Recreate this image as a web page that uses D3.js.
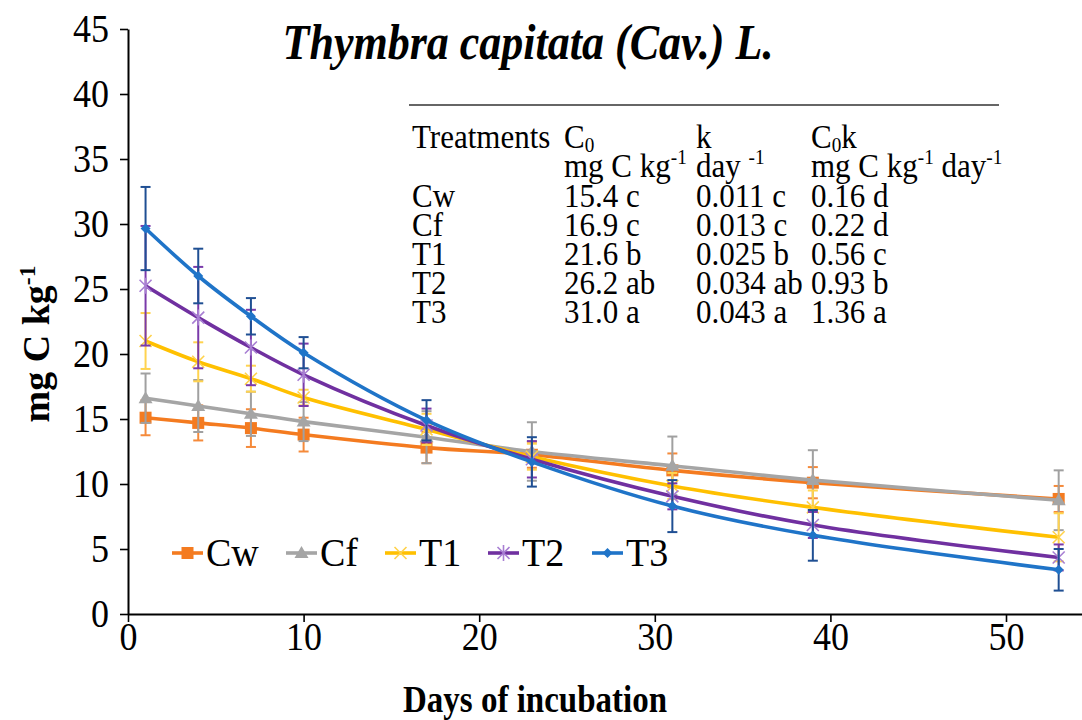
<!DOCTYPE html>
<html>
<head>
<meta charset="utf-8">
<script src="https://cdn.jsdelivr.net/npm/d3@7/dist/d3.min.js"></script>
<style>
  body { margin: 0; background: #fff; }
  svg { display: block; }
  svg text { font-family: "Liberation Serif", "Times New Roman", "DejaVu Serif", serif; fill: #000; }
</style>
</head>
<body>
<div id="chart"></div>
<script>
const width = 1082, height = 720;

// data
const days = [1, 4, 7, 10, 17, 23, 31, 39, 53];
const cw = [15.1, 14.7, 14.3, 13.8, 12.8, 12.25, 11.05, 10.1, 8.85];
const cwErr = [1.35, 1.35, 1.45, 1.3, 1.2, 1.0, 1.3, 1.2, 1.0];
const cf = [16.6, 16.0, 15.4, 14.8, 13.6, 12.5, 11.4, 10.3, 8.75];
const cfErr = [1.9, 2.0, 1.7, 1.5, 2.0, 2.25, 2.25, 2.3, 2.3];
const t1 = [21.0, 19.4, 18.1, 16.65, 14.2, 12.1, 9.85, 8.2, 5.9];
const t1Err = [2.15, 1.5, 1.0, 0.6, 1.2, 1.0, 1.0, 1.3, 1.85];
const t2 = [25.25, 22.8, 20.5, 18.4, 14.5, 11.9, 9.05, 6.85, 4.35];
const t2Err = [4.6, 3.9, 2.9, 2.4, 1.3, 1.4, 1.0, 1.0, 1.0];
const t3 = [29.65, 26.0, 22.9, 20.1, 14.9, 11.7, 8.3, 6.05, 3.4];
const t3Err = [3.2, 2.1, 1.4, 1.2, 1.55, 1.9, 2.0, 1.95, 1.6];

const xTicks = [0, 10, 20, 30, 40, 50];
const yTicks = [0, 5, 10, 15, 20, 25, 30, 35, 40, 45];

// table in the plot
const treatments = ["Cw", "Cf", "T1", "T2", "T3"];
const c0Values = ["15.4 c", "16.9 c", "21.6 b", "26.2 ab", "31.0 a"];
const kValues = ["0.011 c", "0.013 c", "0.025 b", "0.034 ab", "0.043 a"];
const c0kValues = ["0.16 d", "0.22 d", "0.56 c", "0.93 b", "1.36 a"];

const series = [
  { name: "Cw", values: cw, err: cwErr, color: "#F47B20", errColor: "#F58A3A", marker: "square" },
  { name: "Cf", values: cf, err: cfErr, color: "#A5A5A5", errColor: "#A0A0A0", marker: "triangle" },
  { name: "T1", values: t1, err: t1Err, color: "#FFC000", errColor: "#FFD34F", marker: "x" },
  { name: "T2", values: t2, err: t2Err, color: "#7030A0", errColor: "#7A3AAA", marker: "star" },
  { name: "T3", values: t3, err: t3Err, color: "#1F74C8", errColor: "#1F4F93", marker: "diamond" }
];

const svg = d3.select("#chart").append("svg")
  .attr("width", width)
  .attr("height", height);

const x = d3.scaleLinear().domain([0, 55]).range([128, 128 + 55 * 17.56]);
const y = d3.scaleLinear().domain([0, 45]).range([614, 29]);

// text with sub / superscripts: the shift is undone on the next part
function richText(sel, parts, size) {
  let pending = 0;
  parts.forEach(p => {
    const t = sel.append("tspan").text(p.t);
    let dy = pending;
    pending = 0;
    if (p.sup) {
      t.attr("font-size", size * 0.62);
      dy += -size * 0.38;
      pending = size * 0.38;
    } else if (p.sub) {
      t.attr("font-size", size * 0.62);
      dy += size * 0.12;
      pending = -size * 0.12;
    }
    if (dy !== 0) t.attr("dy", dy);
  });
  return sel;
}

// the source picture is a bit taller than wide, so text is stretched upward
function stretch(sel, k) {
  sel.each(function () {
    const t = d3.select(this);
    const tx = +t.attr("x") || 0, ty = +t.attr("y") || 0;
    t.attr("x", 0).attr("y", 0)
      .attr("transform", `translate(${tx}, ${ty}) scale(1, ${k})`);
  });
  return sel;
}

// =========================
// AXES
// =========================
const xAxis = svg.append("g")
  .attr("transform", `translate(0, ${y(0)})`)
  .call(d3.axisBottom(x).tickValues(xTicks).tickSize(8).tickSizeOuter(0));

const yAxis = svg.append("g")
  .attr("transform", `translate(${x(0)}, 0)`)
  .call(d3.axisLeft(y).tickValues(yTicks).tickSize(8).tickSizeOuter(0));

[xAxis, yAxis].forEach(a => {
  a.select(".domain").attr("stroke", "#000").attr("stroke-width", 2);
  a.selectAll(".tick line").attr("stroke", "#000").attr("stroke-width", 1.6);
  a.selectAll(".tick text")
    .attr("fill", "#000")
    .attr("dy", null)
    .style("font-size", "36px");
});
yAxis.selectAll(".tick text").attr("x", -19).attr("y", 12);
xAxis.selectAll(".tick text").attr("y", 36);
stretch(yAxis.selectAll(".tick text"), 1.14);
stretch(xAxis.selectAll(".tick text"), 1.14);

// =========================
// SERIES
// =========================
const line = d3.line()
  .x((d, i) => x(days[i]))
  .y(d => y(d))
  .curve(d3.curveCatmullRom.alpha(0.5));

function drawMarker(g, type, cx, cy, color) {
  if (type === "square") {
    g.append("rect").attr("x", cx - 6).attr("y", cy - 6).attr("width", 12).attr("height", 12).attr("fill", color);
  } else if (type === "triangle") {
    g.append("path").attr("d", `M${cx},${cy - 7}L${cx + 7},${cy + 5}L${cx - 7},${cy + 5}Z`).attr("fill", color);
  } else if (type === "x") {
    g.append("path").attr("d", `M${cx - 6},${cy - 6}L${cx + 6},${cy + 6}M${cx - 6},${cy + 6}L${cx + 6},${cy - 6}`)
      .attr("stroke", "#FFD24A").attr("stroke-width", 1.6);
  } else if (type === "star") {
    g.append("path").attr("d", `M${cx - 6},${cy - 6}L${cx + 6},${cy + 6}M${cx - 6},${cy + 6}L${cx + 6},${cy - 6}M${cx},${cy - 8}L${cx},${cy + 8}`)
      .attr("stroke", "#A87FD3").attr("stroke-width", 1.6);
  } else if (type === "diamond") {
    g.append("path").attr("d", `M${cx},${cy - 5}L${cx + 5},${cy}L${cx},${cy + 5}L${cx - 5},${cy}Z`).attr("fill", color);
  }
}

series.forEach(s => {
  const g = svg.append("g");

  // error bars
  s.values.forEach((v, i) => {
    const cx = x(days[i]);
    const top = y(v + s.err[i]), bot = y(v - s.err[i]);
    g.append("line").attr("x1", cx).attr("x2", cx).attr("y1", top).attr("y2", bot)
      .attr("stroke", s.errColor).attr("stroke-width", 2);
    [top, bot].forEach(yy => {
      g.append("line").attr("x1", cx - 5).attr("x2", cx + 5).attr("y1", yy).attr("y2", yy)
        .attr("stroke", s.errColor).attr("stroke-width", 2);
    });
  });

  g.append("path")
    .attr("d", line(s.values))
    .attr("fill", "none")
    .attr("stroke", s.color)
    .attr("stroke-width", 3.6);

  s.values.forEach((v, i) => drawMarker(g, s.marker, x(days[i]), y(v), s.color));
});

// =========================
// LEGEND
// =========================
const legendX = [172, 286, 385, 488, 592];
const legendY = 553;
series.forEach((s, i) => {
  const g = svg.append("g");
  g.append("line").attr("x1", legendX[i]).attr("x2", legendX[i] + 31)
    .attr("y1", legendY).attr("y2", legendY)
    .attr("stroke", s.color).attr("stroke-width", 3.6);
  drawMarker(g, s.marker, legendX[i] + 15.5, legendY, s.color);
  stretch(g.append("text")
    .attr("x", legendX[i] + 34)
    .attr("y", legendY + 13)
    .style("font-size", "38px")
    .text(s.name), 1.06);
});

// =========================
// TITLE + AXIS TITLES
// =========================
stretch(svg.append("text")
  .attr("x", 528)
  .attr("y", 59)
  .attr("text-anchor", "middle")
  .style("font-size", "44px")
  .style("font-weight", "bold")
  .style("font-style", "italic")
  .text("Thymbra capitata (Cav.) L."), 1.14);

stretch(svg.append("text")
  .attr("x", 535)
  .attr("y", 712)
  .attr("text-anchor", "middle")
  .style("font-size", "33px")
  .style("font-weight", "bold")
  .text("Days of incubation"), 1.14);

const yl = svg.append("text")
  .attr("transform", "translate(49, 344) rotate(-90)")
  .attr("text-anchor", "middle")
  .style("font-size", "38px")
  .style("font-weight", "bold");
richText(yl, [{ t: "mg C kg" }, { t: "-1", sup: true }], 38);

// =========================
// TABLE
// =========================
const fs = 31;
const tbl = svg.append("g").style("font-size", fs + "px");
const colX = [412, 564, 696, 811];
const rowY = [148, 177, 207, 236, 265, 294, 323];

tbl.append("line").attr("x1", 409).attr("x2", 999).attr("y1", 105).attr("y2", 105)
  .attr("stroke", "#333").attr("stroke-width", 1.5);

const cells = [];
cells.push(tbl.append("text").attr("x", colX[0]).attr("y", rowY[0]).text("Treatments"));
cells.push(richText(tbl.append("text").attr("x", colX[1]).attr("y", rowY[0]), [{ t: "C" }, { t: "0", sub: true }], fs));
cells.push(tbl.append("text").attr("x", colX[2]).attr("y", rowY[0]).text("k"));
cells.push(richText(tbl.append("text").attr("x", colX[3]).attr("y", rowY[0]), [{ t: "C" }, { t: "0", sub: true }, { t: "k" }], fs));

cells.push(richText(tbl.append("text").attr("x", colX[1]).attr("y", rowY[1]), [{ t: "mg C kg" }, { t: "-1", sup: true }], fs));
cells.push(richText(tbl.append("text").attr("x", colX[2]).attr("y", rowY[1]), [{ t: "day " }, { t: "-1", sup: true }], fs));
cells.push(richText(tbl.append("text").attr("x", colX[3]).attr("y", rowY[1]), [{ t: "mg C kg" }, { t: "-1", sup: true }, { t: " day" }, { t: "-1", sup: true }], fs));

treatments.forEach((t, i) => {
  const yy = rowY[i + 2];
  cells.push(tbl.append("text").attr("x", colX[0]).attr("y", yy).text(t));
  cells.push(tbl.append("text").attr("x", colX[1]).attr("y", yy).text(c0Values[i]));
  cells.push(tbl.append("text").attr("x", colX[2]).attr("y", yy).text(kValues[i]));
  cells.push(tbl.append("text").attr("x", colX[3]).attr("y", yy).text(c0kValues[i]));
});
cells.forEach(c => stretch(c, 1.07));
</script>
</body>
</html>
